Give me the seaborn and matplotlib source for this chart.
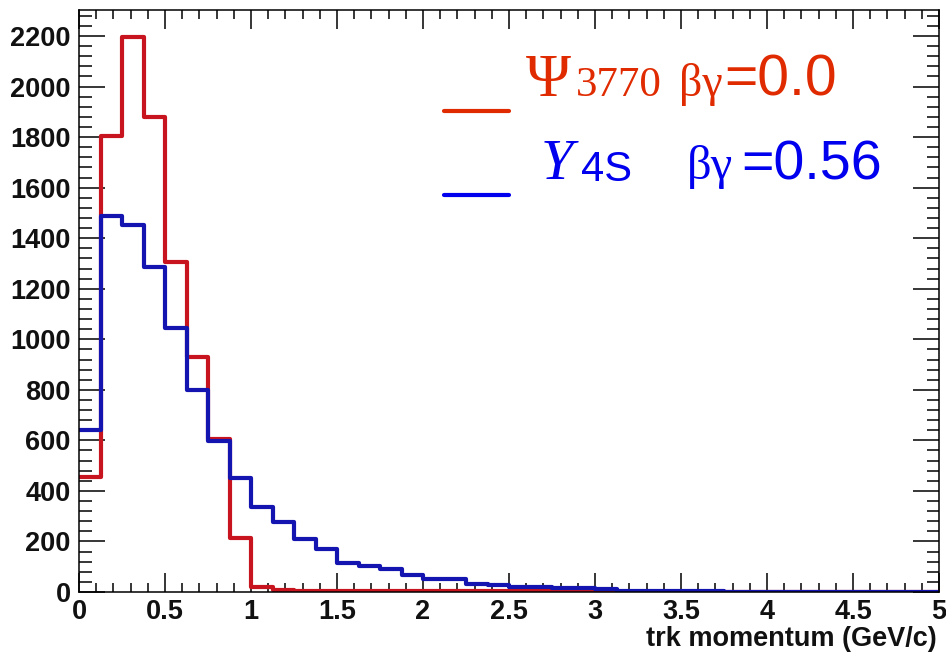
import numpy as np
import pandas as pd
import matplotlib
matplotlib.use("Agg")
import matplotlib.pyplot as plt
from matplotlib.lines import Line2D
from matplotlib.ticker import MultipleLocator
import seaborn as sns

# ---------------- data ----------------
x_min, x_max, bin_width = 0.0, 5.0, 0.125
bin_edges = np.arange(x_min, x_max + bin_width / 2, bin_width)

psi3770_counts = [455, 1805, 2198, 1880, 1305, 930, 605, 212,
                  18, 6, 3, 3, 2, 2, 2, 2, 2, 2, 2, 2,
                  5, 5, 4, 4, 3, 0, 0, 0, 0, 0,
                  0, 0, 0, 0, 0, 0, 0, 0, 0, 0]
y4s_counts = [641, 1488, 1453, 1286, 1044, 799, 599, 450,
              335, 278, 209, 170, 114, 103, 90, 67, 50, 50, 30, 28,
              20, 18, 16, 14, 12, 3, 2, 2, 2, 2,
              1, 1, 1, 1, 1, 1, 1, 1, 1, 1]

x_ticks_major = [0, 0.5, 1, 1.5, 2, 2.5, 3, 3.5, 4, 4.5, 5]
x_tick_labels = ["0", "0.5", "1", "1.5", "2", "2.5", "3", "3.5", "4", "4.5", "5"]
y_ticks_major = [0, 200, 400, 600, 800, 1000, 1200, 1400, 1600, 1800, 2000, 2200]
x_label = "trk momentum (GeV/c)"

centers = (bin_edges[:-1] + bin_edges[1:]) / 2
df_psi = pd.DataFrame({"p": centers, "n": psi3770_counts})
df_y4s = pd.DataFrame({"p": centers, "n": y4s_counts})

# ---------------- style ----------------
sns.set_theme(style="white")
plt.rcParams["font.family"] = ["Liberation Sans", "DejaVu Sans"]

W, H = 946, 656
fig = plt.figure(figsize=(W / 100, H / 100), dpi=100)
ax = fig.add_axes([79 / W, 1 - 592 / H, (939 - 79) / W, (592 - 10) / H])

red_hist = "#c8141e"
blue_hist = "#1414b0"
red_text = "#e02a00"
blue_text = "#0000ee"

sns.histplot(data=df_psi, x="p", weights="n", binwidth=bin_width,
             binrange=(x_min, x_max), element="step",
             fill=False, color=red_hist, linewidth=3.0, ax=ax)
sns.histplot(data=df_y4s, x="p", weights="n", binwidth=bin_width,
             binrange=(x_min, x_max), element="step",
             fill=False, color=blue_hist, linewidth=3.0, ax=ax)

ax.set_xlim(x_min, x_max)
ax.set_ylim(0, 2303)
ax.set_xlabel("")
ax.set_ylabel("")

ax.set_xticks(x_ticks_major)
ax.set_xticklabels(x_tick_labels)
ax.set_yticks(y_ticks_major)
ax.xaxis.set_minor_locator(MultipleLocator(0.1))
ax.yaxis.set_minor_locator(MultipleLocator(40))

ax.tick_params(axis="both", which="both", direction="in",
               top=True, right=True, bottom=True, left=True, color="black")
ax.tick_params(axis="x", which="major", length=13.5, width=1.1, pad=5)
ax.tick_params(axis="x", which="minor", length=6.5, width=1.1)
ax.tick_params(axis="y", which="major", length=18.5, width=1.1, pad=6)
ax.tick_params(axis="y", which="minor", length=9, width=1.1)
for lab in ax.get_xticklabels() + ax.get_yticklabels():
    lab.set_fontsize(19.5)
    lab.set_fontweight("bold")
    lab.set_color("#111111")

for sp in ax.spines.values():
    sp.set_visible(True)
    sp.set_color("black")
    sp.set_linewidth(1.1)

fig.text(937 / W, 1 - 626 / H, x_label, ha="right", va="top",
         fontsize=19.5, fontweight="bold", color="#111111")

# ---------------- legend ----------------
def fx(px):
    return px / W

def fy(py):
    return 1 - py / H

fig.add_artist(Line2D([fx(444), fx(509)], [fy(110.5), fy(110.5)],
                      color=red_text, linewidth=3, transform=fig.transFigure))
fig.add_artist(Line2D([fx(444), fx(509)], [fy(195), fy(195)],
                      color=blue_text, linewidth=3, transform=fig.transFigure))

serif = ["Liberation Serif", "DejaVu Serif"]
sans = ["Liberation Sans", "DejaVu Sans"]

# red entry
fig.text(fx(526), fy(96), "Ψ", family=serif, fontsize=44, color=red_text, va="baseline")
fig.text(fx(576), fy(96), "3770", family=serif, fontsize=31, color=red_text, va="baseline")
fig.text(fx(679), fy(96), "βγ", family=serif, fontsize=33, color=red_text, va="baseline")
fig.text(fx(724), fy(96), "=0.0", family=sans, fontsize=41, color=red_text, va="baseline")

# blue entry
fig.text(fx(541), fy(179), "Υ", family=serif, style="italic", fontsize=42,
         color=blue_text, va="baseline")
fig.text(fx(581), fy(181), "4S", family=sans, fontsize=30, color=blue_text, va="baseline")
fig.text(fx(687), fy(179), "βγ", family=serif, fontsize=35, color=blue_text, va="baseline")
fig.text(fx(741), fy(179), "=0.56", family=sans, fontsize=40, color=blue_text, va="baseline")

fig.savefig("out.png", dpi=100, facecolor="white")
